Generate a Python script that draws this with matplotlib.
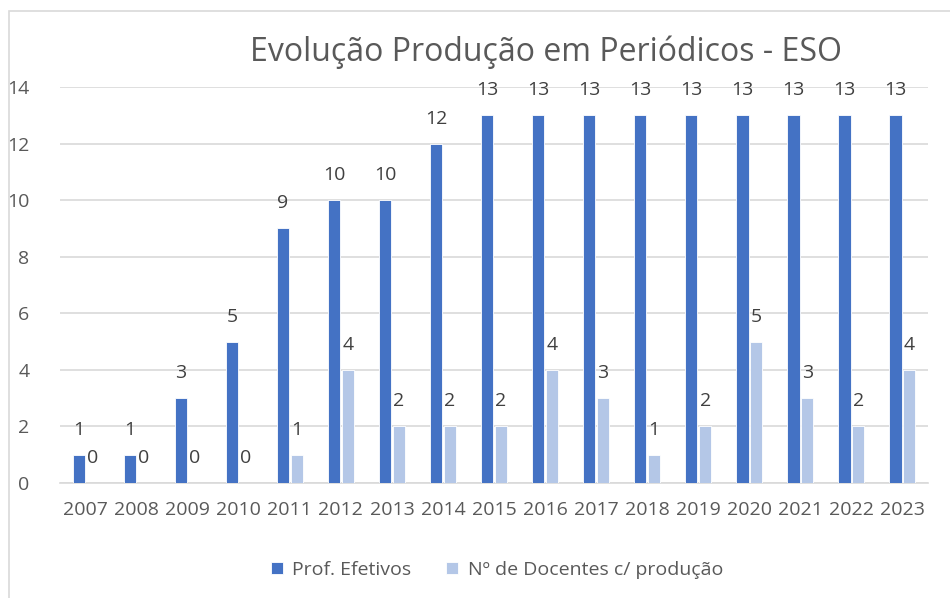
import numpy as np
import matplotlib.pyplot as plt
from matplotlib.patches import Rectangle

anos = ['2007', '2008', '2009', '2010', '2011', '2012', '2013', '2014', '2015',
        '2016', '2017', '2018', '2019', '2020', '2021', '2022', '2023']
prof_efetivos = [1, 1, 3, 5, 9, 10, 10, 12, 13, 13, 13, 13, 13, 13, 13, 13, 13]
docentes_prod = [0, 0, 0, 0, 1, 4, 2, 2, 2, 4, 3, 1, 2, 5, 3, 2, 4]

plt.rcParams['font.family'] = ['Open Sans', 'DejaVu Sans']
cinza = '#595959'

fig = plt.figure(figsize=(9.5, 5.98), dpi=100)
ax = fig.add_axes([60 / 950, 1 - 483 / 598, 868 / 950, 396 / 598])

x = np.arange(len(anos))
w = 0.24
b1 = ax.bar(x - 0.135, prof_efetivos, w, color='#4472C4', edgecolor='white', linewidth=0.6,
            label='Prof. Efetivos', zorder=3)
b2 = ax.bar(x + 0.135, docentes_prod, w, color='#B4C7E7', edgecolor='white', linewidth=0.6,
            label='Nº de Docentes c/ produção', zorder=3)

for bars, vals in ((b1, prof_efetivos), (b2, docentes_prod)):
    for r, v in zip(bars, vals):
        ax.annotate(str(v), (r.get_x() + r.get_width() / 2, v), xytext=(0, 18),
                    textcoords='offset points', ha='center', va='center',
                    fontsize=14, color='#404040')

ax.set_xlim(-0.5, len(anos) - 0.5)
ax.set_ylim(0, 14)
ax.set_yticks(range(0, 15, 2))
ax.set_xticks(x)
ax.set_xticklabels(anos)
ax.tick_params(length=0, labelsize=14, colors=cinza)
ax.tick_params(axis='y', pad=22)
ax.tick_params(axis='x', pad=13)
ax.grid(axis='y', color='#D9D9D9', linewidth=1.2, zorder=0)
for s in ('left', 'right', 'top'):
    ax.spines[s].set_visible(False)
ax.spines['bottom'].set_color('#D9D9D9')
ax.spines['bottom'].set_linewidth(1.2)

fig.text(546 / 950, 1 - 52 / 598, 'Evolução Produção em Periódicos - ESO',
         ha='center', va='center', fontsize=23, color=cinza)

fig.legend(handles=[b1, b2], loc='center', bbox_to_anchor=(497 / 950, 1 - 570 / 598),
           ncol=2, frameon=False, fontsize=14, labelcolor=cinza,
           handlelength=0.6, handleheight=0.6, columnspacing=1.8, handletextpad=0.5)

fig.patches.append(Rectangle((9 / 950, -0.1), 1.1, 1 - 11 / 598 + 0.1, transform=fig.transFigure,
                             fill=False, edgecolor='#D9D9D9', linewidth=1.2))

fig.savefig('out.png', dpi=100)
